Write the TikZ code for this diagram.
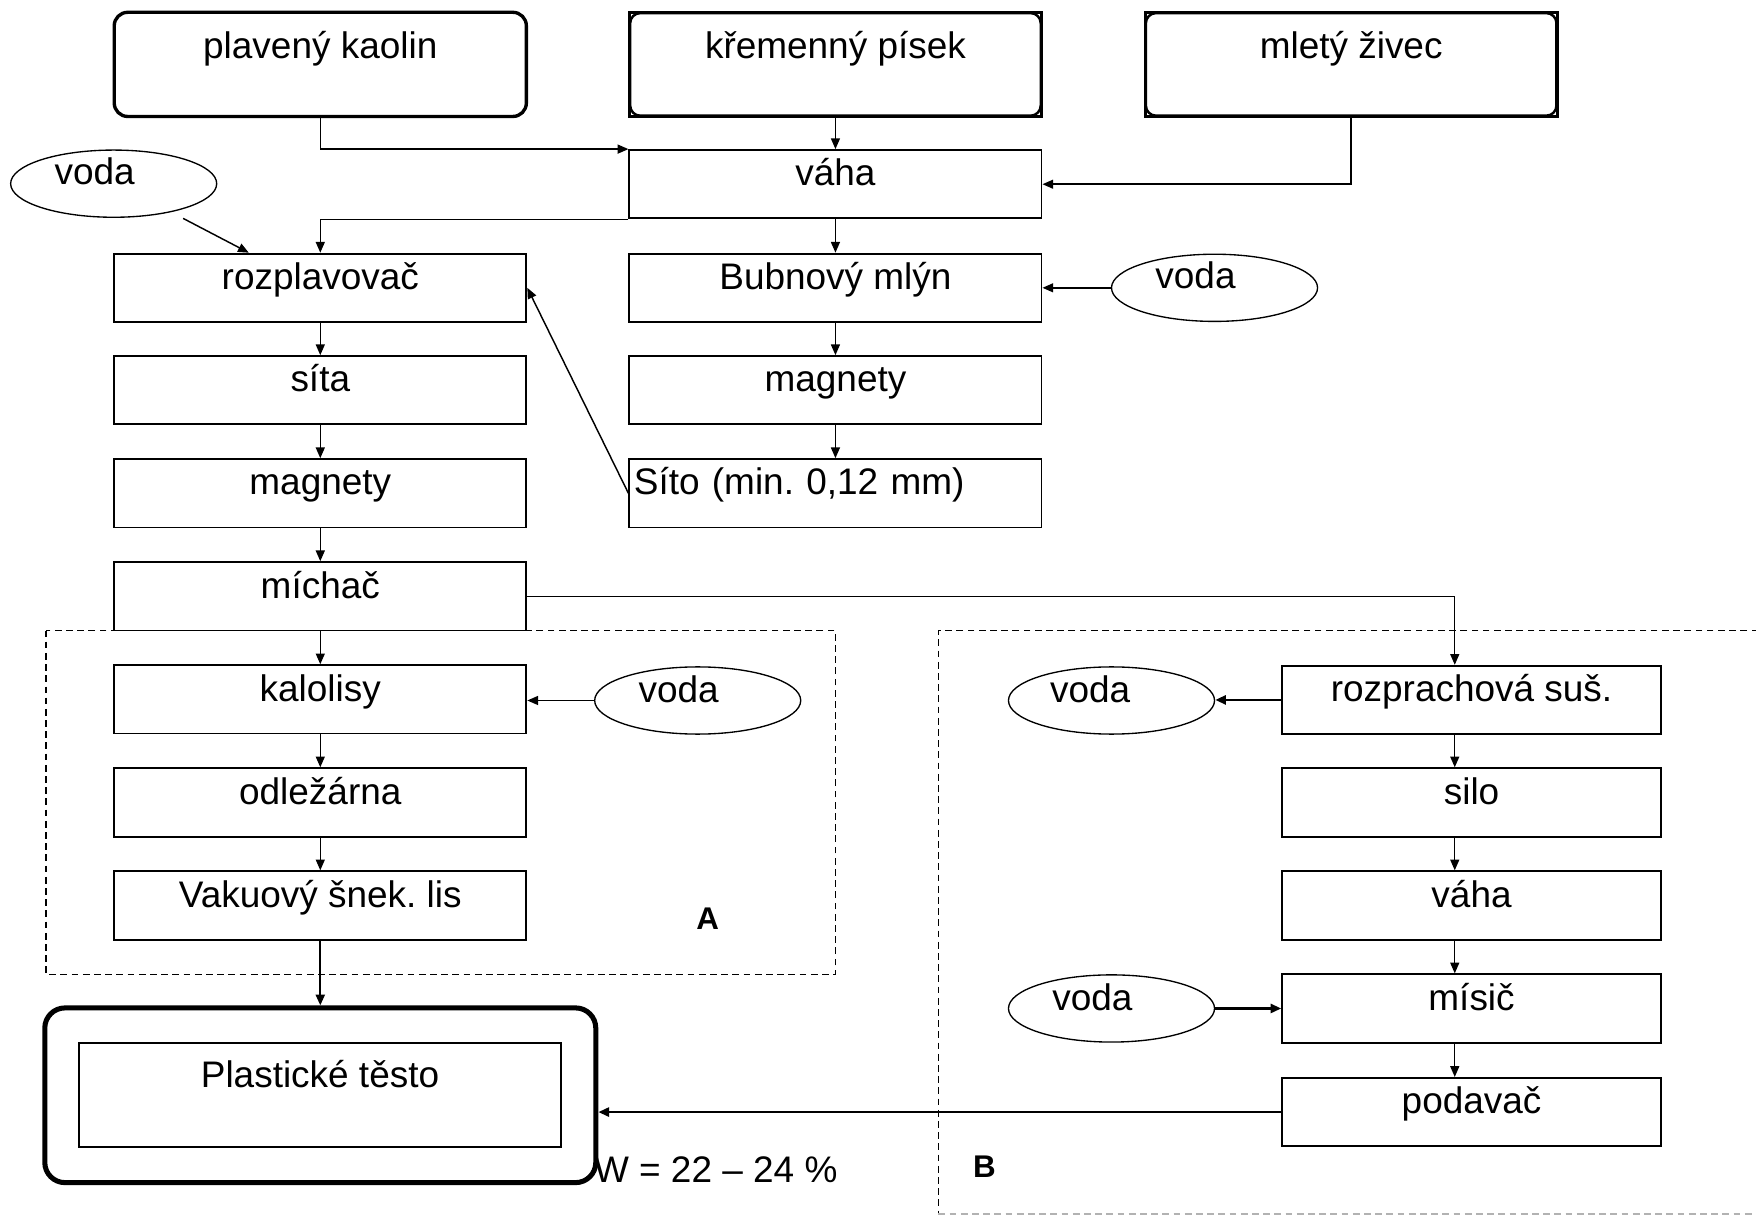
\documentclass[tikz,border=0pt]{standalone}
\usepackage{fontspec}
\setmainfont{Liberation Sans}
\usetikzlibrary{arrows.meta,shapes.geometric,calc}
\frenchspacing
\begin{document}
\begin{tikzpicture}[x=0.5pt,y=-0.5pt,font=\fontsize{16.5}{19}\selectfont]
\tikzset{
  box/.style={draw,line width=0.85pt,rectangle,inner xsep=0pt,inner ysep=0pt,minimum width=184pt,text height=16pt,text depth=14.5pt},
  boxR/.style={box,minimum width=169pt},
  topbox/.style={draw,line width=1.5pt,rounded corners=6pt,inner sep=0pt,minimum width=184pt,text height=20.5pt,text depth=26pt},
  sqtop/.style={draw,line width=1.3pt,inner sep=0pt,minimum width=184pt,text height=20.5pt,text depth=26pt},
  water/.style={draw,ellipse,line width=0.6pt,inner sep=0pt,minimum width=92pt,minimum height=30pt},
  wtext/.style={anchor=base,inner sep=0pt},
  arr/.style={-{Triangle[length=4.8pt,width=4pt]},line width=0.65pt},
  arrM/.style={arr,line width=0.95pt},
  arrT/.style={arr,line width=1.2pt},
  region/.style={dash pattern=on 3pt off 2pt,line width=0.6pt},
  lab/.style={font=\fontsize{14}{16}\selectfont\bfseries,inner sep=0pt},
}
\fill[white] (0,0) rectangle (1568,1085);
\useasboundingbox (0,0) rectangle (1568,1085);

% dashed regions
\draw[region] (41,563) rectangle (746,870);
\draw[region] (1570,563) -- (838,563) -- (838,1084);
\draw[region,gray!60] (838,1084) -- (1570,1084);

% top raw materials
\node[topbox] (kaolin) at (286,57.5) {plavený kaolin};
\node[sqtop] (krem) at (746,57.5) {křemenný písek};
\node[sqtop] (zivec) at (1206.5,57.5) {mletý živec};
\draw[line width=1.1pt,rounded corners=4.5pt] ($(krem.north west)+(2,2)$) rectangle ($(krem.south east)+(-2,-2)$);
\draw[line width=1.1pt,rounded corners=4.5pt] ($(zivec.north west)+(2,2)$) rectangle ($(zivec.south east)+(-2,-2)$);

% middle column
\node[box] (vaha) at (746,164.5) {váha};
\node[box] (bub) at (746,257) {Bubnový mlýn};
\node[box] (magR) at (746,348.5) {magnety};
\node[box,text width=180pt,align=left,inner xsep=2pt] (sito) at (746,440.5) {Síto (min. 0,12 mm)};

% left column
\node[box] (rozpl) at (286,257) {rozplavovač};
\node[box] (sita) at (286,348.5) {síta};
\node[box] (magL) at (286,440.5) {magnety};
\node[box] (michac) at (286,532.5) {míchač};
\node[box] (kalolisy) at (286,624.5) {kalolisy};
\node[box] (odlez) at (286,716.5) {odležárna};
\node[box] (vakuovy) at (286,808.5) {Vakuový šnek. lis};

% right column
\coordinate (colB) at (1299,0);
\node[boxR] (rozpr) at (1314,625) {rozprachová suš.};
\node[boxR] (silo) at (1314,716.5) {silo};
\node[boxR] (vahaR) at (1314,808.5) {váha};
\node[boxR] (misic) at (1314,900.5) {mísič};
\node[boxR] (podavac) at (1314,993) {podavač};

% water ellipses
\node[water] (voda1) at (101.5,164) {};
\node[wtext] (v1t) at ($(voda1)+(-17,1)$) {voda};
\node[water] (voda2) at (1084.5,257) {};
\node[wtext] (v2t) at ($(voda2)+(-17,1)$) {voda};
\node[water] (voda3) at (623,625.5) {};
\node[wtext] (v3t) at ($(voda3)+(-17,1.5)$) {voda};
\node[water] (voda4) at (992.5,625.5) {};
\node[wtext] (v4t) at ($(voda4)+(-19,1.5)$) {voda};
\node[water] (voda5) at (992.5,900.5) {};
\node[wtext] (v5t) at ($(voda5)+(-17,1.5)$) {voda};

% product
\node[draw,line width=2.25pt,rounded corners=9pt,minimum width=246pt,minimum height=78pt,inner sep=0pt] (plast) at (286,978) {};
\node[draw,line width=0.8pt,inner sep=0pt,minimum width=215pt,text height=20pt,text depth=26.5pt] (plastin) at (285.75,977.5) {Plastické těsto};

% labels
\node[lab] (labA) at (632,820) {A};
\node[lab] (labB) at (879,1042) {B};
\node[anchor=base west,inner sep=0pt] (wtxt) at (530,1056) {W = 22 – 24 \%};

% connectors, top part
\draw[arr] (kaolin.south) |- (vaha.north west);
\draw[arr] (krem.south) -- (vaha.north);
\draw[arr] (zivec.south) |- (vaha.east);
\draw[arr] (vaha.south) -- (bub.north);
\draw[arr] (vaha.south west) -| (rozpl.north);
\coordinate (v1out) at ($(voda1)+(62,31)$);
\coordinate (v1in) at ($(rozpl.north west)+(121,0)$);
\draw[arr] (v1out) -- (v1in);
\draw[arr] (voda2.west) -- (bub.east);
\draw[arr] (bub.south) -- (magR.north);
\draw[arr] (magR.south) -- (sito.north);
\draw[arr] (sito.west) -- (rozpl.east);

% left chain
\draw[arr] (rozpl.south) -- (sita.north);
\draw[arr] (sita.south) -- (magL.north);
\draw[arr] (magL.south) -- (michac.north);
\draw[arr] (michac.south) -- (kalolisy.north);
\draw[arr] (kalolisy.south) -- (odlez.north);
\draw[arr] (odlez.south) -- (vakuovy.north);
\draw[arrM] (vakuovy.south) -- (plast.north);
\draw[arr] (voda3.west) -- (voda3.west -| kalolisy.east);

% right chain
\draw[arr] (michac.east) -| (colB |- rozpr.north);
\draw[arrT] (rozpr.west) -- (rozpr.west -| voda4.east);
\draw[arr] (colB |- rozpr.south) -- (colB |- silo.north);
\draw[arr] (colB |- silo.south) -- (colB |- vahaR.north);
\draw[arr] (colB |- vahaR.south) -- (colB |- misic.north);
\draw[arr] (colB |- misic.south) -- (colB |- podavac.north);
\draw[arrT] (voda5.east) -- (voda5.east -| misic.west);
\draw[arrT] (podavac.west) -- (podavac.west -| plast.east);
\end{tikzpicture}
\end{document}
